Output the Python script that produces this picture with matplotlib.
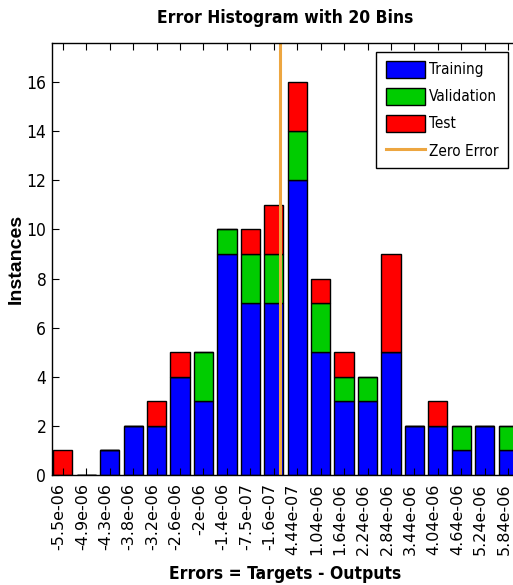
# Error histogram with 20 bins (stacked training / validation / test)

import matplotlib.pyplot as plt
import matplotlib.transforms as mtransforms
import numpy as np

bin_labels = ['-5.5e-06', '-4.9e-06', '-4.3e-06', '-3.8e-06', '-3.2e-06',
              '-2.6e-06', '-2e-06', '-1.4e-06', '-7.5e-07', '-1.6e-07',
              '4.44e-07', '1.04e-06', '1.64e-06', '2.24e-06', '2.84e-06',
              '3.44e-06', '4.04e-06', '4.64e-06', '5.24e-06', '5.84e-06']
bin_centers = [-5.5e-06, -4.9e-06, -4.3e-06, -3.8e-06, -3.2e-06,
               -2.6e-06, -2e-06, -1.4e-06, -7.5e-07, -1.6e-07,
               4.44e-07, 1.04e-06, 1.64e-06, 2.24e-06, 2.84e-06,
               3.44e-06, 4.04e-06, 4.64e-06, 5.24e-06, 5.84e-06]
training = [0, 0, 1, 2, 2, 4, 3, 9, 7, 7, 12, 5, 3, 3, 5, 2, 2, 1, 2, 1]
validation = [0, 0, 0, 0, 0, 0, 2, 1, 2, 2, 2, 2, 1, 1, 0, 0, 0, 1, 0, 1]
test = [1, 0, 0, 0, 1, 1, 0, 0, 1, 2, 2, 1, 1, 0, 4, 0, 1, 0, 0, 0]

font = 'DejaVu Sans'
stretch = 'condensed'

x = np.arange(len(bin_labels))
training = np.array(training)
validation = np.array(validation)
test = np.array(test)
total = training + validation + test

# zero error position, interpolated between the bins around zero
zero_x = np.interp(0.0, bin_centers, x)

fig = plt.figure(figsize=(5.13, 5.85), dpi=100)
ax = fig.add_axes([0.101, 0.188, 0.911, 0.739])

w = 0.82
b1 = ax.bar(x, training, width=w, color='#0000ff', edgecolor='black', linewidth=1)
b2 = ax.bar(x, validation, width=w, bottom=training, color='#00cc00', edgecolor='black',
            linewidth=1)
b3 = ax.bar(x, test, width=w, bottom=training + validation, color='#ff0000',
            edgecolor='black', linewidth=1)
zl = ax.axvline(zero_x, color='#eda640', linewidth=2.2)

ax.set_xlim(-0.47, len(x) - 0.53)
ax.set_ylim(0, total.max() * 1.1)
ax.set_xticks(x)
ax.set_xticklabels(bin_labels, rotation=90, fontsize=11.5, family=font)
ax.set_yticks(np.arange(0, 17, 2))
ax.set_yticklabels([str(v) for v in range(0, 17, 2)], fontsize=12.5, family=font,
                   fontstretch=stretch)
ax.tick_params(direction='in', top=True, right=False, length=5, width=0.8, pad=4)
ax.tick_params(axis='x', pad=6)

# MATLAB puts rotated labels slightly left of the tick
shift = mtransforms.ScaledTranslation(-4 / 100, 0, fig.dpi_scale_trans)
for lab in ax.get_xticklabels():
    lab.set_transform(lab.get_transform() + shift)

for s in ax.spines.values():
    s.set_linewidth(1)

ax.set_title('Error Histogram with 20 Bins', fontsize=12.5, family=font,
             fontstretch=stretch, fontweight='bold', pad=14)
ax.set_xlabel('Errors = Targets - Outputs', fontsize=12.5, family=font,
              fontstretch=stretch, fontweight='bold', labelpad=7)
ax.set_ylabel('Instances', fontsize=14, fontweight='bold', family='Liberation Sans')
ax.yaxis.set_label_coords(-0.058, 0.5)

leg = ax.legend([b1, b2, b3, zl], ['Training', 'Validation', 'Test', 'Zero Error'],
                loc='upper right', bbox_to_anchor=(0.976, 0.979),
                prop={'family': font, 'size': 11, 'stretch': stretch},
                fancybox=False, framealpha=1, edgecolor='black',
                handlelength=2.6, handleheight=1.3,
                borderpad=0.6, labelspacing=0.68, handletextpad=0.25,
                borderaxespad=0)
leg.get_frame().set_linewidth(1)

plt.savefig('out.png', dpi=100)
